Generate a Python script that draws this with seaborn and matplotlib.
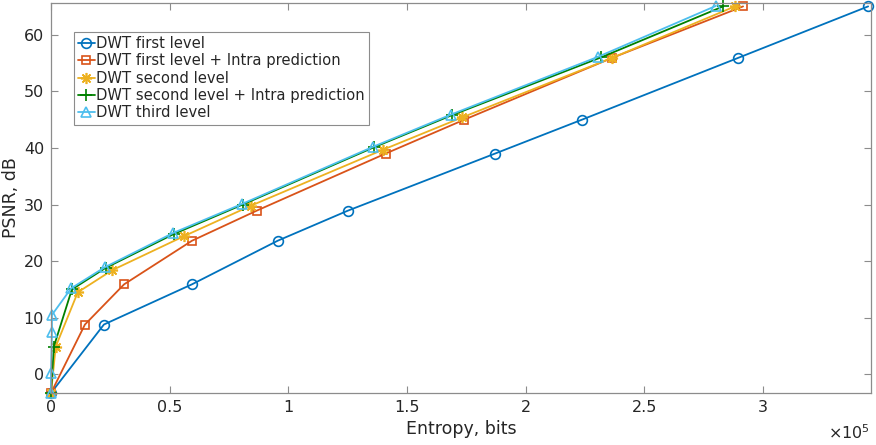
import matplotlib
matplotlib.use("Agg")
import matplotlib.pyplot as plt
import seaborn as sns
import pandas as pd
from matplotlib.ticker import FuncFormatter, MultipleLocator

# Data (entropy in units of 1e5 bits, PSNR in dB)
labels = ["DWT first level", "DWT first level + Intra prediction", "DWT second level",
          "DWT second level + Intra prediction", "DWT third level"]

x1 = [0, 0.223, 0.594, 0.955, 1.25, 1.871, 2.238, 2.895, 3.443]
y1 = [-3.3, 8.8, 15.9, 23.6, 28.9, 39.0, 45.0, 55.9, 65.0]

x2 = [0, 0.143, 0.308, 0.594, 0.866, 1.41, 1.742, 2.364, 2.916]
y2 = [-3.3, 8.8, 15.9, 23.6, 28.9, 39.0, 45.0, 55.9, 65.0]

x3 = [0, 0.02, 0.113, 0.258, 0.56, 0.843, 1.40, 1.733, 2.364, 2.882]
y3 = [-3.3, 4.9, 14.5, 18.4, 24.4, 29.8, 39.7, 45.4, 55.9, 65.0]

x4 = [0, 0.012, 0.088, 0.23, 0.518, 0.808, 1.36, 1.69, 2.318, 2.832]
y4 = [-3.3, 4.9, 15.0, 18.8, 24.8, 30.0, 40.1, 45.8, 56.0, 65.0]

x5 = [0, 0, 0.004, 0.004, 0.085, 0.226, 0.516, 0.805, 1.357, 1.686, 2.305, 2.802]
y5 = [-3.3, 0.2, 7.4, 10.5, 15.2, 18.9, 25.0, 30.1, 40.2, 45.9, 56.1, 65.1]

xs = [x1, x2, x3, x4, x5]
ys = [y1, y2, y3, y4, y5]
colors = ["#0072BD", "#D95319", "#EDB120", "#008000", "#4DBEEE"]
markers = ["o", "s", (8, 2, 0), "+", "^"]
msizes = [7, 6, 8, 8, 7]

sns.set_style("white")
plt.rcParams['font.family'] = ['DejaVu Sans']

fig = plt.figure(figsize=(8.76, 4.45), dpi=100)
ax = fig.add_axes([51/876, 52/445, 820/876, 390/445])

for x, y, c, m, ms, lab in zip(xs, ys, colors, markers, msizes, labels):
    df = pd.DataFrame({"x": [v * 1e5 for v in x], "y": y})
    sns.lineplot(data=df, x="x", y="y", ax=ax, sort=False, estimator=None,
                 color=c, marker=m, markersize=ms, markerfacecolor="none",
                 markeredgecolor=c, markeredgewidth=1.2, linewidth=1.3, label=lab,
                 clip_on=False)

ax.set_xlim(0, 3.455e5)
ax.set_ylim(-3.3, 65.6)
ax.xaxis.set_major_locator(MultipleLocator(0.5e5))
ax.yaxis.set_major_locator(MultipleLocator(10))
ax.xaxis.set_major_formatter(FuncFormatter(lambda v, _: f"{v/1e5:g}"))
ax.set_xlabel("Entropy, bits", fontsize=12.5, color="#262626", labelpad=4)
ax.set_ylabel("PSNR, dB", fontsize=12.5, color="#262626", labelpad=3)

for s in ax.spines.values():
    s.set_color("#8c8c8c")
    s.set_linewidth(0.9)
ax.tick_params(axis="both", direction="in", length=5, width=0.8, color="#8c8c8c",
               labelsize=11.5, labelcolor="#262626", top=True, right=True,
               bottom=True, left=True, pad=5)

fig.text(870/876, 3/445, r"$\times10^5$", ha="right", va="bottom",
         fontsize=11.5, color="#262626")

leg = ax.legend(loc="upper left", bbox_to_anchor=(0.028, 0.926), borderaxespad=0,
                fontsize=10.6, frameon=True, fancybox=False, framealpha=1,
                edgecolor="#8c8c8c", handlelength=1.1, handletextpad=0.1,
                labelspacing=0.15, borderpad=0.3)
leg.get_frame().set_linewidth(0.8)

fig.savefig("out.png", dpi=100)
